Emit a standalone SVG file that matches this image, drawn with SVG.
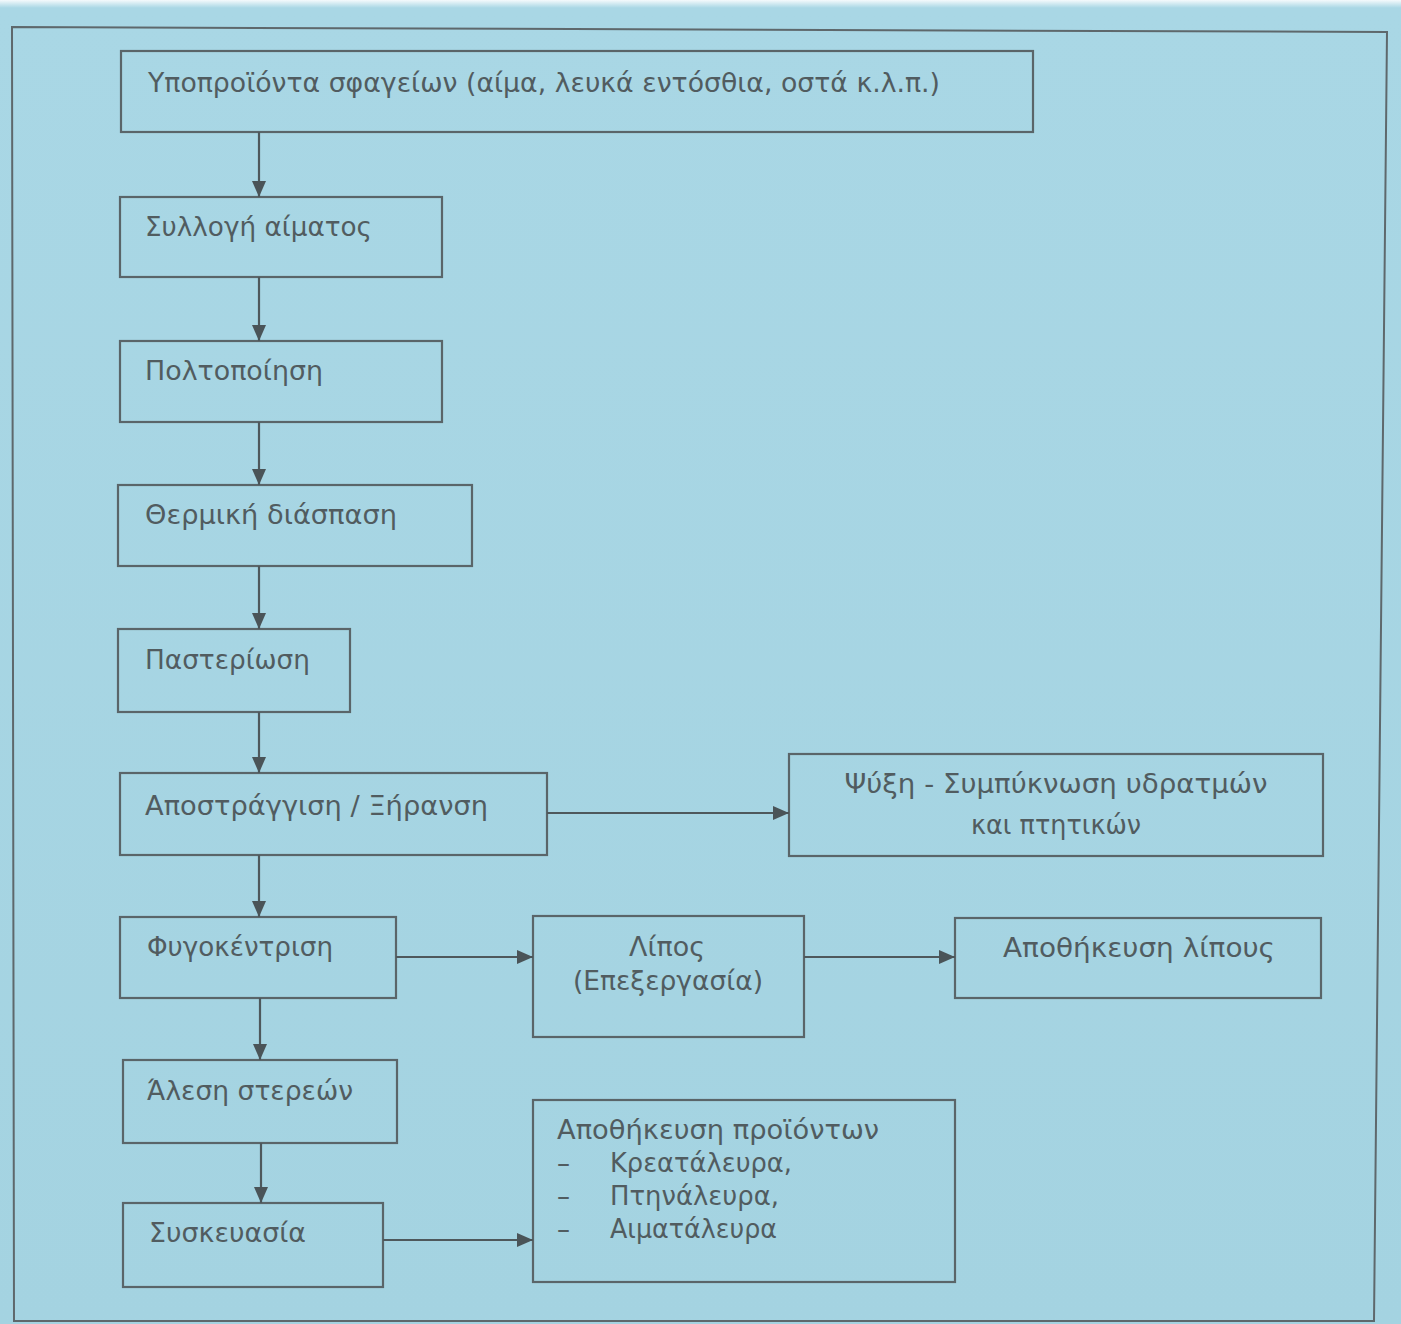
<svg xmlns="http://www.w3.org/2000/svg" width="1401" height="1324" viewBox="0 0 1401 1324">
  <defs>
    <linearGradient id="bg" x1="0" y1="0" x2="0" y2="1">
      <stop offset="0" stop-color="#f4fafc"/>
      <stop offset="0.006" stop-color="#a9d7e5"/>
      <stop offset="1" stop-color="#a4d3e1"/>
    </linearGradient>
    <marker id="arr" viewBox="0 0 16 14" refX="16" refY="7" markerWidth="16" markerHeight="14" markerUnits="userSpaceOnUse" orient="auto">
      <path d="M0,0 L16,7 L0,14 z" fill="#4a5458"/>
    </marker>
  </defs>
  <style>
    .box { fill: none; stroke: #5a6569; stroke-width: 2.2; }
    .frame { fill: none; stroke: #5e686c; stroke-width: 2; }
    .t { font-family: "DejaVu Sans", "Liberation Sans", sans-serif; font-size: 26px; fill: #515c60; }
    .c { text-anchor: middle; }
    .ln { stroke: #4e585c; stroke-width: 2.2; fill: none; marker-end: url(#arr); }
  </style>
  <rect x="0" y="0" width="1401" height="1324" fill="url(#bg)"/>
  <polygon class="frame" points="12,27 1387,32 1374,1321 14,1321"/>

  <g id="n1">
    <rect class="box" x="121" y="51" width="912" height="81"/>
    <text class="t" x="148" y="92" textLength="792" lengthAdjust="spacingAndGlyphs">Υποπροϊόντα σφαγείων (αίμα, λευκά εντόσθια, οστά κ.λ.π.)</text>
  </g>
  <g id="n2">
    <rect class="box" x="120" y="197" width="322" height="80"/>
    <text class="t" x="145" y="236" textLength="227" lengthAdjust="spacingAndGlyphs">Συλλογή αίματος</text>
  </g>
  <g id="n3">
    <rect class="box" x="120" y="341" width="322" height="81"/>
    <text class="t" x="145" y="380" textLength="178" lengthAdjust="spacingAndGlyphs">Πολτοποίηση</text>
  </g>
  <g id="n4">
    <rect class="box" x="118" y="485" width="354" height="81"/>
    <text class="t" x="145" y="524" textLength="252" lengthAdjust="spacingAndGlyphs">Θερμική διάσπαση</text>
  </g>
  <g id="n5">
    <rect class="box" x="118" y="629" width="232" height="83"/>
    <text class="t" x="145" y="669" textLength="165" lengthAdjust="spacingAndGlyphs">Παστερίωση</text>
  </g>
  <g id="n6">
    <rect class="box" x="120" y="773" width="427" height="82"/>
    <text class="t" x="145" y="815" textLength="343" lengthAdjust="spacingAndGlyphs">Αποστράγγιση / Ξήρανση</text>
  </g>
  <g id="n7">
    <rect class="box" x="789" y="754" width="534" height="102"/>
    <text class="t c" x="1056" y="793" textLength="423" lengthAdjust="spacingAndGlyphs">Ψύξη - Συμπύκνωση υδρατμών</text>
    <text class="t c" x="1056" y="834" textLength="170" lengthAdjust="spacingAndGlyphs">και πτητικών</text>
  </g>
  <g id="n8">
    <rect class="box" x="120" y="917" width="276" height="81"/>
    <text class="t" x="147" y="956" textLength="186" lengthAdjust="spacingAndGlyphs">Φυγοκέντριση</text>
  </g>
  <g id="n9">
    <rect class="box" x="533" y="916" width="271" height="121"/>
    <text class="t c" x="667" y="956" textLength="76" lengthAdjust="spacingAndGlyphs">Λίπος</text>
    <text class="t c" x="668" y="990" textLength="190" lengthAdjust="spacingAndGlyphs">(Επεξεργασία)</text>
  </g>
  <g id="n10">
    <rect class="box" x="955" y="918" width="366" height="80"/>
    <text class="t c" x="1139" y="957" textLength="272" lengthAdjust="spacingAndGlyphs">Αποθήκευση λίπους</text>
  </g>
  <g id="n11">
    <rect class="box" x="123" y="1060" width="274" height="83"/>
    <text class="t" x="147" y="1100" textLength="206" lengthAdjust="spacingAndGlyphs">Άλεση στερεών</text>
  </g>
  <g id="n12">
    <rect class="box" x="123" y="1203" width="260" height="84"/>
    <text class="t" x="149" y="1242" textLength="157" lengthAdjust="spacingAndGlyphs">Συσκευασία</text>
  </g>
  <g id="n13">
    <rect class="box" x="533" y="1100" width="422" height="182"/>
    <text class="t" x="557" y="1139" textLength="322" lengthAdjust="spacingAndGlyphs">Αποθήκευση προϊόντων</text>
    <text class="t" x="557" y="1172">–</text>
    <text class="t" x="610" y="1172" textLength="182" lengthAdjust="spacingAndGlyphs">Κρεατάλευρα,</text>
    <text class="t" x="557" y="1205">–</text>
    <text class="t" x="610" y="1205" textLength="169" lengthAdjust="spacingAndGlyphs">Πτηνάλευρα,</text>
    <text class="t" x="557" y="1238">–</text>
    <text class="t" x="610" y="1238" textLength="167" lengthAdjust="spacingAndGlyphs">Αιματάλευρα</text>
  </g>

  <g id="connectors">
    <line class="ln" x1="259" y1="132" x2="259" y2="197"/>
    <line class="ln" x1="259" y1="277" x2="259" y2="341"/>
    <line class="ln" x1="259" y1="422" x2="259" y2="485"/>
    <line class="ln" x1="259" y1="566" x2="259" y2="629"/>
    <line class="ln" x1="259" y1="712" x2="259" y2="773"/>
    <line class="ln" x1="259" y1="855" x2="259" y2="917"/>
    <line class="ln" x1="260" y1="998" x2="260" y2="1060"/>
    <line class="ln" x1="261" y1="1143" x2="261" y2="1203"/>
    <line class="ln" x1="547" y1="813" x2="789" y2="813"/>
    <line class="ln" x1="396" y1="957" x2="533" y2="957"/>
    <line class="ln" x1="804" y1="957" x2="955" y2="957"/>
    <line class="ln" x1="383" y1="1240" x2="533" y2="1240"/>
  </g>
</svg>
